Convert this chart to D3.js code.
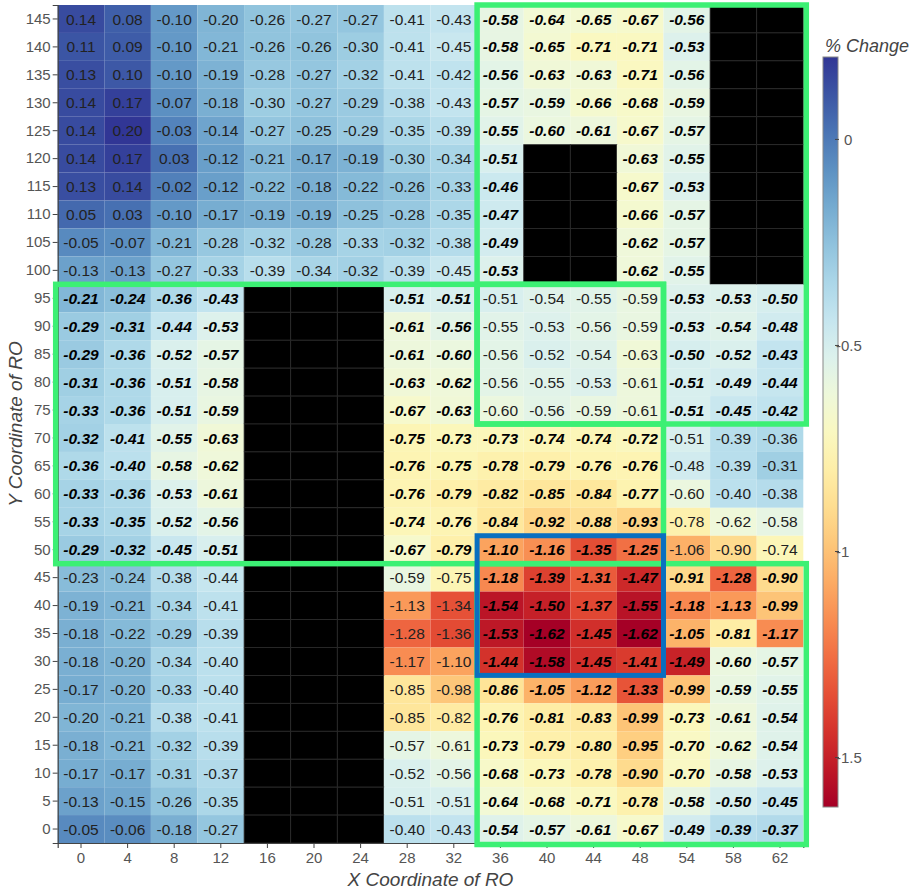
<!DOCTYPE html>
<html>
<head>
<meta charset="utf-8">
<script src="https://cdn.jsdelivr.net/npm/d3@7"></script>
<style>
  body { margin: 0; background: #fff; }
  svg { font-family: "Liberation Sans", Arial, sans-serif; }
</style>
</head>
<body>
<svg width="913" height="890"></svg>
<script>
// X and Y coordinates of the RO (categories)
const xCoords = [0, 4, 8, 12, 16, 20, 24, 28, 32, 36, 40, 44, 48, 54, 58, 62];
const yCoords = [145, 140, 135, 130, 125, 120, 115, 110, 105, 100, 95, 90, 85, 80, 75,
  70, 65, 60, 55, 50, 45, 40, 35, 30, 25, 20, 15, 10, 5, 0];

// % change per cell, one row per y coordinate (top to bottom); null = no data
const N = null;
const values = [
  [0.14, 0.08, -0.10, -0.20, -0.26, -0.27, -0.27, -0.41, -0.43, -0.58, -0.64, -0.65, -0.67, -0.56, N, N],
  [0.11, 0.09, -0.10, -0.21, -0.26, -0.26, -0.30, -0.41, -0.45, -0.58, -0.65, -0.71, -0.71, -0.53, N, N],
  [0.13, 0.10, -0.10, -0.19, -0.28, -0.27, -0.32, -0.41, -0.42, -0.56, -0.63, -0.63, -0.71, -0.56, N, N],
  [0.14, 0.17, -0.07, -0.18, -0.30, -0.27, -0.29, -0.38, -0.43, -0.57, -0.59, -0.66, -0.68, -0.59, N, N],
  [0.14, 0.20, -0.03, -0.14, -0.27, -0.25, -0.29, -0.35, -0.39, -0.55, -0.60, -0.61, -0.67, -0.57, N, N],
  [0.14, 0.17, 0.03, -0.12, -0.21, -0.17, -0.19, -0.30, -0.34, -0.51, N, N, -0.63, -0.55, N, N],
  [0.13, 0.14, -0.02, -0.12, -0.22, -0.18, -0.22, -0.26, -0.33, -0.46, N, N, -0.67, -0.53, N, N],
  [0.05, 0.03, -0.10, -0.17, -0.19, -0.19, -0.25, -0.28, -0.35, -0.47, N, N, -0.66, -0.57, N, N],
  [-0.05, -0.07, -0.21, -0.28, -0.32, -0.28, -0.33, -0.32, -0.38, -0.49, N, N, -0.62, -0.57, N, N],
  [-0.13, -0.13, -0.27, -0.33, -0.39, -0.34, -0.32, -0.39, -0.45, -0.53, N, N, -0.62, -0.55, N, N],
  [-0.21, -0.24, -0.36, -0.43, N, N, N, -0.51, -0.51, -0.51, -0.54, -0.55, -0.59, -0.53, -0.53, -0.50],
  [-0.29, -0.31, -0.44, -0.53, N, N, N, -0.61, -0.56, -0.55, -0.53, -0.56, -0.59, -0.53, -0.54, -0.48],
  [-0.29, -0.36, -0.52, -0.57, N, N, N, -0.61, -0.60, -0.56, -0.52, -0.54, -0.63, -0.50, -0.52, -0.43],
  [-0.31, -0.36, -0.51, -0.58, N, N, N, -0.63, -0.62, -0.56, -0.55, -0.53, -0.61, -0.51, -0.49, -0.44],
  [-0.33, -0.36, -0.51, -0.59, N, N, N, -0.67, -0.63, -0.60, -0.56, -0.59, -0.61, -0.51, -0.45, -0.42],
  [-0.32, -0.41, -0.55, -0.63, N, N, N, -0.75, -0.73, -0.73, -0.74, -0.74, -0.72, -0.51, -0.39, -0.36],
  [-0.36, -0.40, -0.58, -0.62, N, N, N, -0.76, -0.75, -0.78, -0.79, -0.76, -0.76, -0.48, -0.39, -0.31],
  [-0.33, -0.36, -0.53, -0.61, N, N, N, -0.76, -0.79, -0.82, -0.85, -0.84, -0.77, -0.60, -0.40, -0.38],
  [-0.33, -0.35, -0.52, -0.56, N, N, N, -0.74, -0.76, -0.84, -0.92, -0.88, -0.93, -0.78, -0.62, -0.58],
  [-0.29, -0.32, -0.45, -0.51, N, N, N, -0.67, -0.79, -1.10, -1.16, -1.35, -1.25, -1.06, -0.90, -0.74],
  [-0.23, -0.24, -0.38, -0.44, N, N, N, -0.59, -0.75, -1.18, -1.39, -1.31, -1.47, -0.91, -1.28, -0.90],
  [-0.19, -0.21, -0.34, -0.41, N, N, N, -1.13, -1.34, -1.54, -1.50, -1.37, -1.55, -1.18, -1.13, -0.99],
  [-0.18, -0.22, -0.29, -0.39, N, N, N, -1.28, -1.36, -1.53, -1.62, -1.45, -1.62, -1.05, -0.81, -1.17],
  [-0.18, -0.20, -0.34, -0.40, N, N, N, -1.17, -1.10, -1.44, -1.58, -1.45, -1.41, -1.49, -0.60, -0.57],
  [-0.17, -0.20, -0.33, -0.40, N, N, N, -0.85, -0.98, -0.86, -1.05, -1.12, -1.33, -0.99, -0.59, -0.55],
  [-0.20, -0.21, -0.38, -0.41, N, N, N, -0.85, -0.82, -0.76, -0.81, -0.83, -0.99, -0.73, -0.61, -0.54],
  [-0.18, -0.21, -0.32, -0.39, N, N, N, -0.57, -0.61, -0.73, -0.79, -0.80, -0.95, -0.70, -0.62, -0.54],
  [-0.17, -0.17, -0.31, -0.37, N, N, N, -0.52, -0.56, -0.68, -0.73, -0.78, -0.90, -0.70, -0.58, -0.53],
  [-0.13, -0.15, -0.26, -0.35, N, N, N, -0.51, -0.51, -0.64, -0.68, -0.71, -0.78, -0.58, -0.50, -0.45],
  [-0.05, -0.06, -0.18, -0.27, N, N, N, -0.40, -0.43, -0.54, -0.57, -0.61, -0.67, -0.49, -0.39, -0.37]
];

// highlighted regions: [x from, x to, y from, y to]
const greenBoxes = [
  [36, 62, 75, 145],
  [36, 48, 75, 95],
  [0, 48, 50, 95],
  [36, 62, 0, 45]
];
const blueBoxes = [
  [36, 48, 30, 50]
];
// labels are bold italic inside these boxes, except inside the second one
const plainBox = greenBoxes[1];

const colorTicks = [0, -0.5, -1, -1.5];
const colorDomain = [-1.62, 0.20];

const svg = d3.select('svg');
const plotLeft = 57.7, plotRight = 803.3, plotTop = 5, plotBottom = 843;

const x = d3.scaleBand().domain(xCoords).range([plotLeft, plotRight]);
const y = d3.scaleBand().domain(yCoords).range([plotTop, plotBottom]);
const color = d3.scaleSequential(d3.interpolateRdYlBu).domain(colorDomain);

const inBox = (b, cx, cy) => cx >= b[0] && cx <= b[1] && cy >= b[2] && cy <= b[3];

const cells = [];
values.forEach((row, j) => row.forEach((v, i) => {
  cells.push({ x: xCoords[i], y: yCoords[j], v });
}));

// cells
svg.append('g')
  .selectAll('rect')
  .data(cells)
  .enter().append('rect')
    .attr('x', d => x(d.x))
    .attr('y', d => y(d.y))
    .attr('width', x.bandwidth())
    .attr('height', y.bandwidth())
    .attr('fill', d => d.v === null ? '#000' : color(d.v))
    .attr('stroke', d => d.v === null ? '#2b2b2b' : 'none')
    .attr('stroke-width', 0.8);

// value labels
svg.append('g')
  .selectAll('text')
  .data(cells.filter(d => d.v !== null))
  .enter().append('text')
    .attr('x', d => x(d.x) + x.bandwidth() / 2)
    .attr('y', d => y(d.y) + y.bandwidth() / 2)
    .attr('dy', '0.36em')
    .attr('text-anchor', 'middle')
    .attr('font-size', 15.5)
    .each(function (d) {
      const bold = greenBoxes.some(b => inBox(b, d.x, d.y)) && !inBox(plainBox, d.x, d.y);
      d3.select(this)
        .attr('font-weight', bold ? 'bold' : 'normal')
        .attr('font-style', bold ? 'italic' : 'normal')
        .attr('fill', bold ? '#000' : '#222');
    })
    .text(d => d.v.toFixed(2));

// axes
const xAxis = svg.append('g')
  .attr('transform', `translate(0,${plotBottom})`)
  .call(d3.axisBottom(x).tickSize(5).tickPadding(4));
const yAxis = svg.append('g')
  .attr('transform', `translate(${plotLeft},0)`)
  .call(d3.axisLeft(y).tickSize(5).tickPadding(2));
[xAxis, yAxis].forEach(a => {
  a.select('.domain').attr('stroke', '#444').attr('stroke-width', 1.2);
  a.selectAll('.tick line').attr('stroke', '#444');
  a.selectAll('.tick text')
    .attr('fill', '#555')
    .attr('font-size', 15)
    .attr('font-family', '"Liberation Sans", Arial, sans-serif');
});

svg.append('text')
  .attr('x', (plotLeft + plotRight) / 2)
  .attr('y', 886)
  .attr('text-anchor', 'middle')
  .attr('font-size', 19)
  .attr('font-style', 'italic')
  .attr('fill', '#444')
  .text('X Coordinate of RO');

svg.append('text')
  .attr('transform', `translate(22,${(plotTop + plotBottom) / 2}) rotate(-90)`)
  .attr('text-anchor', 'middle')
  .attr('font-size', 19)
  .attr('font-style', 'italic')
  .attr('fill', '#444')
  .text('Y Coordinate of RO');

// highlight boxes
const boxRect = (sel, boxes, stroke, width) => sel.selectAll(null)
  .data(boxes)
  .enter().append('rect')
    .attr('x', d => x(d[0]) - (d[0] === xCoords[0] ? 2 : 0))
    .attr('y', d => y(d[3]))
    .attr('width', d => x(d[1]) + x.bandwidth() - x(d[0]) + (d[1] === 62 ? 3 : 0) + (d[0] === xCoords[0] ? 2 : 0))
    .attr('height', d => y(d[2]) + y.bandwidth() - y(d[3]) + (d[2] === 0 ? 1.5 : 0))
    .attr('fill', 'none')
    .attr('stroke', stroke)
    .attr('stroke-width', width);

boxRect(svg.append('g'), greenBoxes, '#3cf074', 5.5);
boxRect(svg.append('g'), blueBoxes, '#0a6fc0', 5);

// colorbar
const cbX = 823, cbW = 15, cbTop = 57, cbBottom = 807;
const cbScale = d3.scaleLinear().domain([colorDomain[1], colorDomain[0]]).range([cbTop, cbBottom]);
const grad = svg.append('defs').append('linearGradient')
  .attr('id', 'cb')
  .attr('x1', 0).attr('y1', 0).attr('x2', 0).attr('y2', 1);
grad.selectAll('stop')
  .data(d3.range(0, 1.0001, 0.05))
  .enter().append('stop')
    .attr('offset', t => t)
    .attr('stop-color', t => color(colorDomain[1] - t * (colorDomain[1] - colorDomain[0])));

svg.append('rect')
  .attr('x', cbX).attr('y', cbTop)
  .attr('width', cbW).attr('height', cbBottom - cbTop)
  .attr('fill', 'url(#cb)')
  .attr('stroke', '#888')
  .attr('stroke-width', 1);

const cbTicks = svg.append('g').selectAll('g')
  .data(colorTicks)
  .enter().append('g')
    .attr('transform', d => `translate(0,${cbScale(d)})`);
cbTicks.append('line')
  .attr('x1', cbX + cbW - 3).attr('x2', cbX + cbW + 1)
  .attr('stroke', '#444');
cbTicks.append('text')
  .attr('x', d => d === 0 ? cbX + cbW + 6 : cbX + cbW - 2)
  .attr('dy', '0.36em')
  .attr('font-size', 15)
  .attr('fill', '#555')
  .text(d => d === 0 ? '0' : String(d));

svg.append('text')
  .attr('x', 825)
  .attr('y', 52)
  .attr('font-size', 18)
  .attr('font-style', 'italic')
  .attr('fill', '#444')
  .text('% Change');
</script>
</body>
</html>
